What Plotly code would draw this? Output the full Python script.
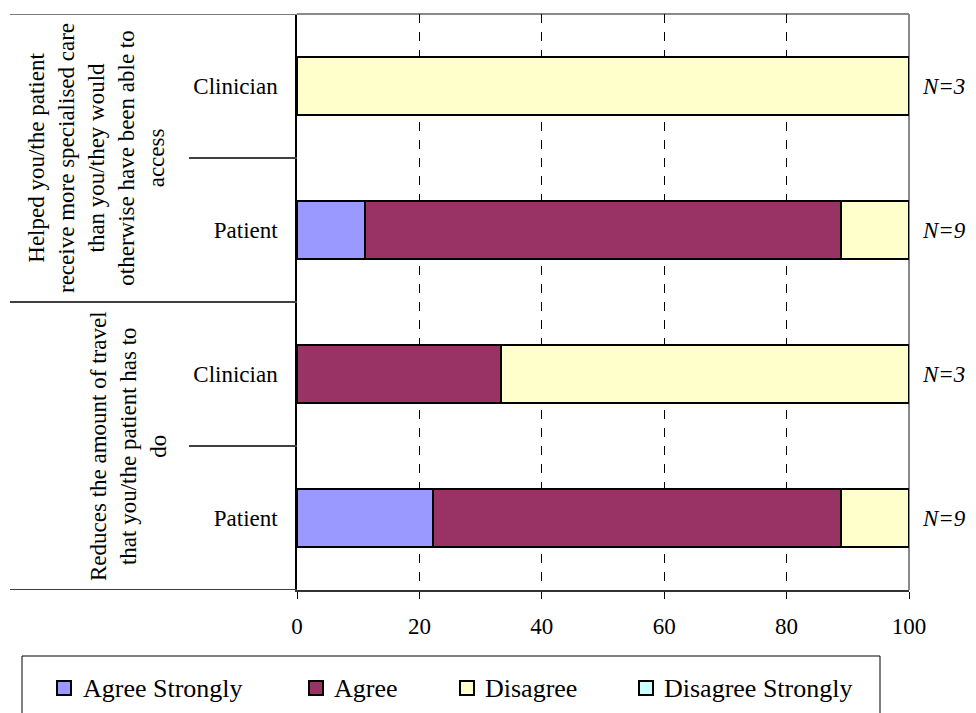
import plotly.graph_objects as go

# Survey responses (% of respondents), bottom row first
categories = ["Patient", "Clinician", "Patient", "Clinician"]
agree_strongly = [22.2, 0, 11.1, 0]
agree = [66.7, 33.3, 77.8, 0]
disagree = [11.1, 66.7, 11.1, 100]
disagree_strongly = [0, 0, 0, 0]
n_counts = [9, 3, 9, 3]

group_labels = [
    "Reduces the amount of travel<br>that you/the patient has to<br>do",
    "Helped you/the patient<br>receive more specialised care<br>than you/they would<br>otherwise have been able to<br>access",
]
x_ticks = [0, 20, 40, 60, 80, 100]

series = [
    ("Agree Strongly", agree_strongly, "#9999FF"),
    ("Agree", agree, "#993366"),
    ("Disagree", disagree, "#FFFFCC"),
    ("Disagree Strongly", disagree_strongly, "#CCFFFF"),
]

W, H = 976, 713
L, R, T, B = 297, 67, 14, 123
PW, PH = W - L - R, H - T - B
FONT = "Liberation Serif"
FS = 23
LEG_FS = 26

def px(xpix):
    return (xpix - L) / PW

def py(ypix):
    return (H - B - ypix) / PH

ypos = list(range(len(categories)))

fig = go.Figure()
for name, vals, color in series:
    fig.add_trace(go.Bar(
        y=ypos, x=vals, orientation="h", name=name, width=0.4,
        marker=dict(color=color, line=dict(color="black", width=2)),
        showlegend=False, hoverinfo="x+name",
    ))

shapes = []
# category frame lines on the left side
for yv, x0 in [(3.5, -0.469), (2.5, -0.1765), (1.5, -0.469), (0.5, -0.1765), (-0.5, -0.469)]:
    col = "#7a7a7a" if yv == 3.5 else "#404040"
    shapes.append(dict(type="line", xref="paper", yref="y", x0=x0, x1=0, y0=yv, y1=yv,
                       line=dict(color=col, width=2), layer="above"))
# top and right border of the plotting area
shapes.append(dict(type="line", xref="paper", yref="paper", x0=0, x1=1, y0=1, y1=1,
                   line=dict(color="#8a8a8a", width=2), layer="between"))
shapes.append(dict(type="line", xref="paper", yref="paper", x0=1, x1=1, y0=0, y1=1,
                   line=dict(color="#8a8a8a", width=2), layer="between"))

annotations = []
# group labels (rotated)
for yc, xc, txt in [(0.5, 128, group_labels[0]), (2.5, 96, group_labels[1])]:
    annotations.append(dict(xref="paper", yref="y", x=px(xc), y=yc, text=txt,
                            textangle=-90, showarrow=False, xanchor="center", yanchor="middle",
                            font=dict(family=FONT, size=FS, color="black"), align="center"))
# N counts
for yv, n in zip(ypos, n_counts):
    annotations.append(dict(xref="paper", yref="y", x=px(920), y=yv, text=f"<i>N={n}</i>",
                            showarrow=False, xanchor="left", yanchor="middle",
                            font=dict(family=FONT, size=FS, color="black")))

# legend box
shapes.append(dict(type="rect", xref="paper", yref="paper", x0=px(22), x1=px(880),
                   y0=py(656), y1=py(722), line=dict(color="black", width=1),
                   fillcolor="white", layer="above"))
legend_pos = [(57, 81), (309, 332), (460, 483), (639, 662)]
sq = 14
cy = 688
for (name, _, color), (sx, tx) in zip(series, legend_pos):
    shapes.append(dict(type="rect", xref="paper", yref="paper",
                       x0=px(sx), x1=px(sx + sq), y0=py(cy + sq / 2), y1=py(cy - sq / 2),
                       line=dict(color="black", width=2), fillcolor=color, layer="above"))
    annotations.append(dict(xref="paper", yref="paper", x=px(tx), y=py(cy), text=name,
                            showarrow=False, xanchor="left", yanchor="middle",
                            font=dict(family=FONT, size=LEG_FS, color="black")))

fig.update_layout(
    width=W, height=H, margin=dict(l=L, r=R, t=T, b=B, pad=0),
    barmode="stack", bargap=0,
    paper_bgcolor="white", plot_bgcolor="white",
    font=dict(family=FONT, size=FS, color="black"),
    shapes=shapes, annotations=annotations,
    xaxis=dict(range=[0, 100], tickvals=x_ticks, ticktext=[str(v) for v in x_ticks],
               showgrid=True, gridcolor="black", griddash="dash", gridwidth=1,
               zeroline=False, showline=True, linecolor="#333333", linewidth=2,
               ticks="outside", ticklen=7, tickcolor="black", tickwidth=1,
               ticklabelstandoff=7, tickfont=dict(family=FONT, size=FS, color="black")),
    yaxis=dict(range=[-0.5, 3.5], tickvals=ypos, ticktext=categories,
               showgrid=False, zeroline=False, showline=True, linecolor="black", linewidth=1.5,
               ticks="", ticklabelstandoff=13, tickfont=dict(family=FONT, size=FS, color="black")),
)

fig.write_html("out.html")
